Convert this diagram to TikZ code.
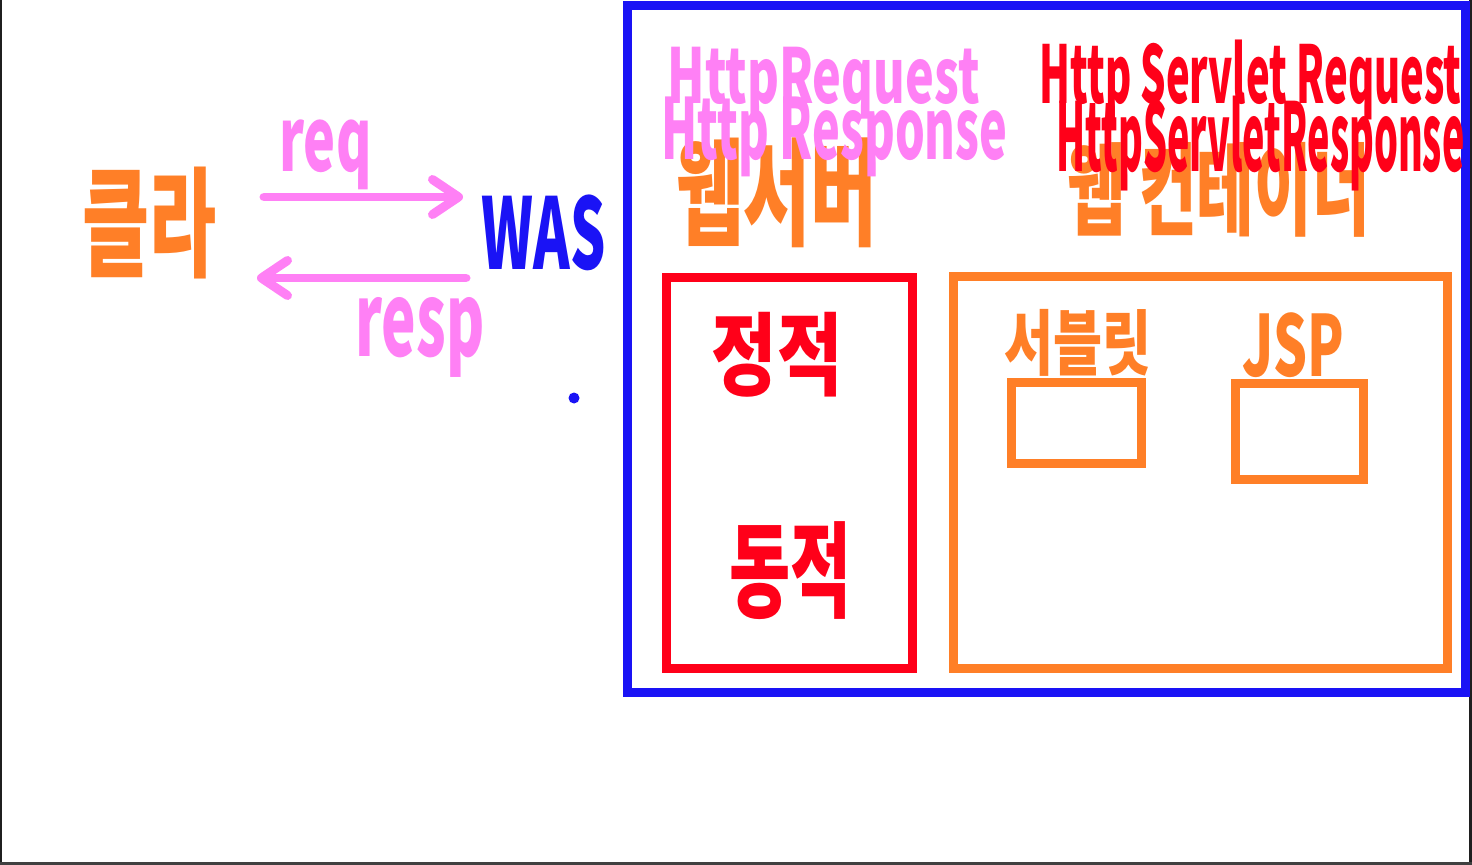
\documentclass[tikz,border=0pt]{standalone}
\usepackage{fontspec}
\usepackage{graphicx}
\usepackage{tikz}
\usetikzlibrary{arrows.meta}
\newfontfamily\hand{Noto Sans CJK KR}
\definecolor{bluepen}{HTML}{1A13F5}
\definecolor{pinkpen}{HTML}{FF80F5}
\definecolor{orangepen}{HTML}{FF7F27}
\definecolor{redpen}{HTML}{FF0019}
\newdimen\pxu \pxu=0.02cm
\newcommand{\ink}[3]{\resizebox*{#1\pxu}{#2\pxu}{\hand\bfseries #3}}

\begin{document}
\begin{tikzpicture}[x=0.02cm, y=-0.02cm, line width=0.18cm,
    txt/.style={inner sep=0pt, anchor=north west},
    flow/.style={draw=pinkpen, line cap=round, -{Straight Barb[round, length=0.52cm, width=0.7cm]}},
    pen/.style={draw=#1}]
\useasboundingbox (0,0) rectangle (1472,865);
\fill[white] (0,0) rectangle (1472,865);
% page edges
\fill[black!88] (0,0) rectangle (2,865);
\fill[black!88] (1469,0) rectangle (1472,865);
\fill[black!75] (0,862) rectangle (1472,865);

% client <-> WAS
\node[txt, text=orangepen] (client) at (78,163) {\ink{134}{112}{클라}};
\node[txt, text=bluepen] (was) at (477,190) {\ink{124}{76}{WAS}};
\coordinate (reqA) at (264,197);
\coordinate (reqB) at (463,197);
\coordinate (respA) at (466,278);
\coordinate (respB) at (257,278);
\draw[flow] (reqA) -- (reqB);
\draw[flow] (respA) -- (respB);
\node[txt, text=pinkpen] (req) at (275,115) {\ink{92}{70}{req}};
\node[txt, text=pinkpen] (resp) at (351,293) {\ink{129}{80}{resp}};
\fill[bluepen] (574,398) circle[radius=0.11cm];

% WAS box
\draw[pen=bluepen] (627.5,6) rectangle (1465,692.5);
\node[txt, text=orangepen] (websrv) at (672,133) {\ink{201}{110}{웹서버}};
\node[txt, text=orangepen] (webcon) at (1063,138) {\ink{302}{95}{웹 컨테이너}};
\node[txt, text=pinkpen] (httpreq) at (663,43) {\ink{312}{72}{HttpRequest}};
\node[txt, text=pinkpen] (httpresp) at (657,92) {\ink{346}{80}{Http Response}};
\node[txt, text=redpen] (servreq) at (1035,35) {\ink{422}{80}{Http Servlet Request}};
\node[txt, text=redpen] (servresp) at (1052,92) {\ink{408}{95}{HttpServletResponse}};

% web server part
\draw[pen=redpen] (666.5,277.5) rectangle (912.5,668.5);
\node[txt, text=redpen] (static) at (707,308) {\ink{131}{85}{정적}};
\node[txt, text=redpen] (dynamic) at (725,517) {\ink{122}{98}{동적}};

% web container part
\draw[pen=orangepen] (953.5,276.5) rectangle (1447,668);
\node[txt, text=orangepen] (servlet) at (1000,305) {\ink{147}{67}{서블릿}};
\node[txt, text=orangepen] (jsp) at (1238,308) {\ink{102}{65}{JSP}};
\draw[pen=orangepen] (1011.5,382.5) rectangle (1141.5,463.5);
\draw[pen=orangepen] (1235.5,383.5) rectangle (1363.5,479.5);
\end{tikzpicture}
\end{document}
